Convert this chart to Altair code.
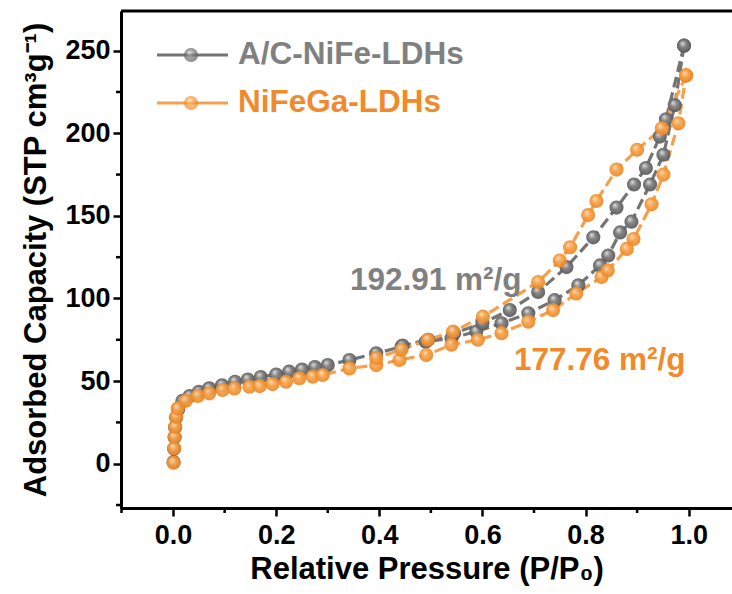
import altair as alt
import pandas as pd

# ---------------- data ----------------
gray_name = "A/C-NiFe-LDHs"
orange_name = "NiFeGa-LDHs"

gx_ads = [0.001, 0.002, 0.003, 0.004, 0.006, 0.010, 0.018, 0.032, 0.050, 0.070, 0.095, 0.120,
          0.145, 0.170, 0.200, 0.225, 0.250, 0.275, 0.300, 0.342, 0.394, 0.443, 0.490, 0.540,
          0.588, 0.637, 0.689, 0.740, 0.786, 0.828, 0.844, 0.867, 0.889, 0.925, 0.951, 0.973, 0.991]
gy_ads = [1, 9, 16, 22, 28, 33, 38, 41, 43.5, 45.6, 47.5, 49.6,
          51, 52.5, 54, 55.7, 57, 58.5, 59.7, 62.8, 66.8, 70.8, 73.8, 76,
          80, 85, 91, 99, 108, 120, 126, 140, 146.5, 169, 187, 217, 253]

gx_des = [0.991, 0.956, 0.944, 0.917, 0.894, 0.860, 0.815, 0.763, 0.708, 0.653, 0.600, 0.545, 0.495, 0.445]
gy_des = [253, 208.5, 198, 179, 169, 155, 137, 119, 104, 93, 85, 79, 75, 71.5]

ox_ads = [0.001, 0.002, 0.003, 0.004, 0.006, 0.009, 0.025, 0.048, 0.070, 0.096, 0.119, 0.148,
          0.168, 0.193, 0.219, 0.245, 0.271, 0.290, 0.342, 0.394, 0.439, 0.491, 0.540, 0.591,
          0.637, 0.689, 0.737, 0.782, 0.831, 0.843, 0.880, 0.893, 0.928, 0.951, 0.980, 0.995]
oy_ads = [0.6, 9.3, 16.3, 22.4, 28.5, 33.5, 38.1, 41, 42.6, 44.6, 45.6, 46.6,
          47, 48.2, 49.6, 51.7, 52.7, 53.7, 57.7, 59.7, 62.8, 65.8, 72, 75,
          79, 86, 93, 103, 113, 117, 130, 136, 157, 175, 206, 235]

ox_des = [0.995, 0.948, 0.900, 0.860, 0.821, 0.805, 0.770, 0.750, 0.708, 0.601, 0.543, 0.494, 0.443, 0.394]
oy_des = [235, 203, 190, 178, 159, 150.5, 131, 123, 110, 89, 80, 75, 69, 64]

x_major = [0.0, 0.2, 0.4, 0.6, 0.8, 1.0]
x_minor = [-0.1, 0.1, 0.3, 0.5, 0.7, 0.9]
y_major = [0, 50, 100, 150, 200, 250]
y_minor = [-25, 25, 75, 125, 175, 225]

gray_area = "192.91 m²/g"
orange_area = "177.76 m²/g"


def frame(name, branch, xs, ys):
    return pd.DataFrame({"series": name, "key": name + branch,
                         "idx": list(range(len(xs))), "p": xs, "v": ys})


df = pd.concat([frame(gray_name, "ads", gx_ads, gy_ads),
                frame(gray_name, "des", gx_des, gy_des),
                frame(orange_name, "ads", ox_ads, oy_ads),
                frame(orange_name, "des", ox_des, oy_des)], ignore_index=True)

# ---------------- styling ----------------
W, H = 611, 497
FONT = "Liberation Sans"
GRAY_LINE = "#747474"
ORANGE_LINE = "#f5a04f"
GRAY_TEXT = "#808080"
ORANGE_TEXT = "#f08a2c"


def sphere(light, mid, dark):
    return {"gradient": "radial", "x1": 0.38, "y1": 0.32, "r1": 0.02,
            "x2": 0.5, "y2": 0.5, "r2": 0.55,
            "stops": [{"offset": 0, "color": light},
                      {"offset": 0.45, "color": mid},
                      {"offset": 1, "color": dark}]}


GRAY_SPHERE = sphere("#d8d8d8", "#7d7d7d", "#555555")
ORANGE_SPHERE = sphere("#ffd7a8", "#f7a044", "#e9801f")

xscale = alt.Scale(domain=[-0.101, 1.084], nice=False, zero=False)
yscale = alt.Scale(domain=[-26.8, 274], nice=False, zero=False)

xaxis = alt.Axis(values=x_major, format=".1f", grid=False,
                 labelFont=FONT, labelFontSize=27, labelFontWeight="bold", labelColor="black",
                 labelPadding=6, tickSize=8, tickWidth=2.5, tickColor="black",
                 domainWidth=3, domainColor="black",
                 title="Relative Pressure (P/P₀)", titleFont=FONT, titleFontSize=31,
                 titleFontWeight="bold", titleColor="black", titlePadding=6)
yaxis = alt.Axis(values=y_major, format="d", grid=False,
                 labelFont=FONT, labelFontSize=27, labelFontWeight="bold", labelColor="black",
                 labelPadding=3, tickSize=8, tickWidth=2.5, tickColor="black",
                 domainWidth=3, domainColor="black",
                 title="Adsorbed Capacity (STP cm³g⁻¹)", titleFont=FONT, titleFontSize=31,
                 titleFontWeight="bold", titleColor="black", titlePadding=12)

base = alt.Chart(df)

lines = base.mark_line(strokeWidth=3.2, strokeDash=[11, 5]).encode(
    x=alt.X("p:Q", scale=xscale, axis=xaxis),
    y=alt.Y("v:Q", scale=yscale, axis=yaxis),
    color=alt.Color("series:N", scale=alt.Scale(domain=[gray_name, orange_name],
                                                range=[GRAY_LINE, ORANGE_LINE]), legend=None),
    detail="key:N",
    order="idx:Q",
)

gray_pts = base.transform_filter(alt.datum.series == gray_name).mark_point(
    shape="circle", filled=True, size=200, fill=GRAY_SPHERE, strokeWidth=0, opacity=0.95
).encode(x=alt.X("p:Q", scale=xscale), y=alt.Y("v:Q", scale=yscale))

orange_pts = base.transform_filter(alt.datum.series == orange_name).mark_point(
    shape="circle", filled=True, size=200, fill=ORANGE_SPHERE, strokeWidth=0, opacity=0.92
).encode(x=alt.X("p:Q", scale=xscale), y=alt.Y("v:Q", scale=yscale))

# minor ticks
xminor = alt.Chart(pd.DataFrame({"p": x_minor})).mark_rule(color="black", strokeWidth=2.5).encode(
    x=alt.X("p:Q", scale=xscale), y=alt.value(H), y2=alt.value(H + 5))
yminor = alt.Chart(pd.DataFrame({"v": y_minor})).mark_rule(color="black", strokeWidth=2.5).encode(
    y=alt.Y("v:Q", scale=yscale), x=alt.value(-5), x2=alt.value(0))

top_spine = alt.Chart(pd.DataFrame({"a": [0]})).mark_rule(color="black", strokeWidth=3).encode(
    x=alt.value(0), x2=alt.value(W), y=alt.value(0))

# legend
def legend_item(name, yy, line_color, sph, text_color):
    d = alt.Chart(pd.DataFrame({"label": [name]}))
    ln = d.mark_rule(color=line_color, strokeWidth=3.2).encode(
        x=alt.value(36), x2=alt.value(107), y=alt.value(yy))
    pt = d.mark_point(shape="circle", filled=True, size=200, fill=sph, strokeWidth=0).encode(
        x=alt.value(70), y=alt.value(yy))
    tx = d.mark_text(align="left", baseline="middle", font=FONT, fontSize=31.5,
                     fontWeight="bold", color=text_color).encode(
        text="label:N", x=alt.value(117), y=alt.value(yy))
    return ln + pt + tx


leg1 = legend_item(gray_name, 44, GRAY_LINE, GRAY_SPHERE, GRAY_TEXT)
leg2 = legend_item(orange_name, 92, ORANGE_LINE, ORANGE_SPHERE, ORANGE_TEXT)

ann_gray = alt.Chart(pd.DataFrame({"t": [gray_area]})).mark_text(
    align="left", baseline="middle", font=FONT, fontSize=31.5, fontWeight="bold", color=GRAY_TEXT
).encode(text="t:N", x=alt.value(229), y=alt.value(270))
ann_orange = alt.Chart(pd.DataFrame({"t": [orange_area]})).mark_text(
    align="left", baseline="middle", font=FONT, fontSize=31.5, fontWeight="bold", color=ORANGE_TEXT
).encode(text="t:N", x=alt.value(393), y=alt.value(350))

chart = alt.layer(
    lines, gray_pts, orange_pts, xminor, yminor, top_spine, leg1, leg2, ann_gray, ann_orange
).properties(
    width=W, height=H,
    autosize=alt.AutoSizeParams(type="none"),
    padding={"left": 121, "top": 11, "right": 0, "bottom": 86},
    background="white",
).configure_view(stroke=None)

chart.save("out.html", embed_options={"renderer": "svg", "actions": False})
